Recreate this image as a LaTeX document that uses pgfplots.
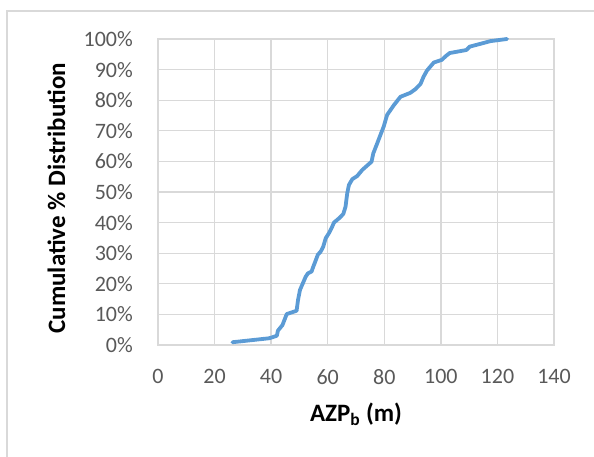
\documentclass[border=0pt]{standalone}
\usepackage{pgfplots}
\pgfplotsset{compat=1.18}
\usepackage{fontspec}
\setmainfont{Carlito}
\definecolor{gridc}{HTML}{D9D9D9}
\definecolor{tickc}{HTML}{595959}
\definecolor{linec}{HTML}{5B9BD5}
\begin{document}
\begin{tikzpicture}[x=1pt,y=1pt]
\path[use as bounding box] (0,0) rectangle (594,457);
\draw[gridc, line width=1.3pt] (7,-5) -- (7,446) -- (600,446);
\begin{axis}[
  at={(158pt,112pt)}, anchor=south west,
  scale only axis, width=396pt, height=306pt,
  xmin=0, xmax=140, ymin=0, ymax=100,
  xtick={0,20,...,140}, ytick={0,10,...,100},
  /pgf/number format/assume math mode=true,
  yticklabel={\pgfmathprintnumber{\tick}\%},
  major tick length=0pt,
  axis line style={gridc, line width=1.3pt},
  grid=major,
  major grid style={gridc, line width=1.3pt},
  ticklabel style={font=\fontsize{22}{26}\selectfont, text=tickc},
  yticklabel style={anchor=east, inner sep=0pt, xshift=-25pt},
  xticklabel style={anchor=north, inner sep=0pt, yshift=-24pt},
  xlabel={AZP\textsubscript{b} (m)},
  ylabel={Cumulative \% Distribution},
  label style={font=\fontsize{25}{30}\selectfont\bfseries},
  xlabel style={at={(axis description cs:0.5,0)}, anchor=base, yshift=-77pt},
  ylabel style={at={(axis description cs:-0.2348,0.48)}, anchor=base},
  clip=false,
]
\addplot[linec, line width=3.8pt, line join=round, line cap=round] coordinates {
(26.3,0.9) (39.3,2.2) (42,3) (42.4,4.7) (44,6.5) (45.5,10.1) (49,11.2)
(49.5,14.7) (50.2,18) (52.2,22.3) (53,23.4) (54.3,24) (54.9,25.6)
(55.7,27.5) (56.5,29.5) (57.5,30.5) (58.4,32.1) (59.3,34.9) (60.4,36.5)
(61.6,38.7) (62.2,40) (64,41.4) (65.5,42.8) (66.3,45.2) (66.9,49.6)
(67.5,52.3) (68.7,54.2) (70.4,55.2) (72.2,57.2) (73.9,58.6) (75.5,59.9)
(76.1,62.6) (77.5,65.9) (78.7,68.8) (79.8,71.4) (81,75.2) (83.4,78.4)
(85.7,81.1) (89.2,82.4) (91,83.6) (92.8,85.3) (93.9,87.7) (95.1,89.7)
(97.5,92.3) (100.4,93.2) (101.6,94.3) (103.1,95.4) (109,96.4) (110.2,97.5)
(113.9,98.4) (117.5,99.3) (123.4,100)
};
\end{axis}
\end{tikzpicture}
\end{document}
